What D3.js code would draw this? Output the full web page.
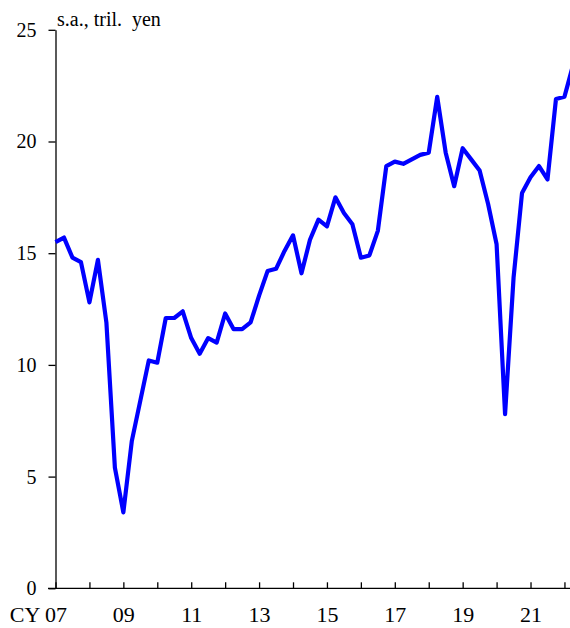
<!DOCTYPE html>
<html>
<head>
<meta charset="utf-8">
<script src="https://cdn.jsdelivr.net/npm/d3@7"></script>
<style>
    body { margin: 0; background: #fff; }
    text { font-family: "Liberation Serif", "Times New Roman", serif; fill: #000; }
</style>
</head>
<body>
<div id="chart"></div>
<script>
// Quarterly data, CY2007 Q1 - CY2022 Q2 (s.a., tril. yen)
var quarters = d3.range(62).map(i => 2007 + i / 4);
var values = [
    15.5, 15.7, 14.8, 14.6,
    12.8, 14.7, 11.9, 5.4,
    3.4, 6.6, 8.4, 10.2,
    10.1, 12.1, 12.1, 12.4,
    11.2, 10.5, 11.2, 11.0,
    12.3, 11.6, 11.6, 11.9,
    13.1, 14.2, 14.3, 15.1,
    15.8, 14.1, 15.6, 16.5,
    16.2, 17.5, 16.8, 16.3,
    14.8, 14.9, 16.0, 18.9,
    19.1, 19.0, 19.2, 19.4,
    19.5, 22.0, 19.5, 18.0,
    19.7, 19.2, 18.7, 17.2,
    15.4, 7.8, 13.9, 17.7,
    18.4, 18.9, 18.3, 21.9,
    22.0, 23.4
];
var yTicks = [0, 5, 10, 15, 20, 25];
var xTicks = d3.range(2007, 2023);
var xLabels = {2007: "07", 2009: "09", 2011: "11", 2013: "13", 2015: "15", 2017: "17", 2019: "19", 2021: "21"};
var unitLabel = "s.a., tril.  yen";

// SVG parameter
var svgWidth = 570;
var svgHeight = 628;

var svg = d3.select("#chart")
    .append("svg")
    .attr("width", svgWidth)
    .attr("height", svgHeight);

// Scales
var xScale = d3.scaleLinear()
    .domain([2007, 2022.25])
    .range([55.5, 55.5 + 15.25 * 33.93]);

var yScale = d3.scaleLinear()
    .domain([0, 25])
    .range([588.3, 29.8]);

// X axis: ticks pointing up, labels every other year
var bottomAxis = d3.axisBottom(xScale)
    .tickValues(xTicks)
    .tickSizeInner(-6)
    .tickSizeOuter(0)
    .tickPadding(18)
    .tickFormat(d => xLabels[d] || "");

var xAxis = svg.append("g")
    .attr("transform", `translate(0, ${yScale(0)})`)
    .call(bottomAxis);

xAxis.select(".domain").attr("d", `M48,0H${svgWidth + 10}`);
xAxis.selectAll("line").attr("stroke-width", 1.3);
xAxis.selectAll("text")
    .attr("font-size", 22)
    .attr("font-family", "Liberation Serif");
xAxis.selectAll(".tick")
    .filter(d => d === 2007)
    .select("text")
    .attr("text-anchor", "end")
    .attr("x", 11)
    .text("CY 07");

// Y axis
var leftAxis = d3.axisLeft(yScale)
    .tickValues(yTicks)
    .tickSizeInner(7)
    .tickSizeOuter(0)
    .tickPadding(12);

var yAxis = svg.append("g")
    .attr("transform", `translate(${xScale(2007)}, 0)`)
    .call(leftAxis);

yAxis.selectAll("line").attr("stroke-width", 1.3);
yAxis.selectAll("text")
    .attr("font-size", 20)
    .attr("font-family", "Liberation Serif");

svg.selectAll(".domain")
    .attr("stroke", "#000")
    .attr("stroke-width", 1.3);

// Unit label
svg.append("text")
    .attr("x", 57)
    .attr("y", 26)
    .attr("font-size", 20)
    .style("white-space", "pre")
    .text(unitLabel);

// Line
var line = d3.line()
    .x((d, i) => xScale(quarters[i]))
    .y(d => yScale(d));

svg.append("path")
    .datum(values)
    .attr("fill", "none")
    .attr("stroke", "#0000ff")
    .attr("stroke-width", 4.2)
    .attr("stroke-linejoin", "round")
    .attr("d", line);
</script>
</body>
</html>
